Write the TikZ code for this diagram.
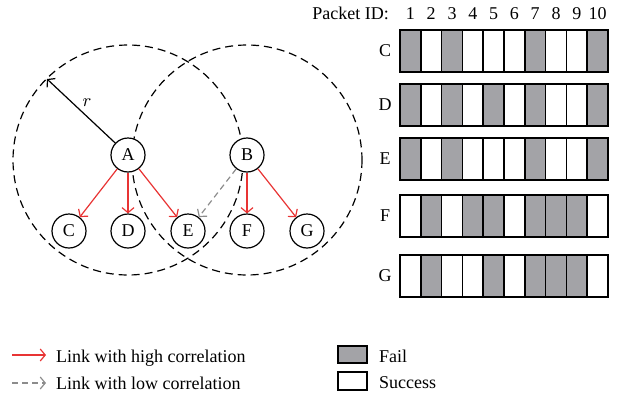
\documentclass[tikz,border=0pt]{standalone}
\usepackage{fontspec}
\setmainfont{Liberation Serif}
\usetikzlibrary{arrows.meta}
\definecolor{linkred}{RGB}{232,52,52}
\definecolor{linkgray}{RGB}{140,140,140}
\definecolor{failgray}{RGB}{163,163,167}
\begin{document}
\begin{tikzpicture}[x=0.5pt,y=-0.5pt,font=\fontsize{9}{11}\selectfont,
  station/.style={circle,draw,fill=white,line width=0.6pt,minimum size=17pt,inner sep=0pt},
  radio/.style={line width=0.6pt,dash pattern=on 4pt off 2.5pt},
  barb/.style={-{Straight Barb[length=2.5pt,width=6pt]}},
  high/.style={barb,linkred,line width=0.6pt},
  low/.style={barb,linkgray,line width=0.6pt,dash pattern=on 3pt off 2pt},
  cell/.style={line width=0.75pt}]
\useasboundingbox (0,0) rectangle (620,396);
% ranges
\coordinate (rangeA) at (128,160);
\coordinate (rangeB) at (247,160);
\draw[radio] (rangeA) circle (115);
\draw[radio] (rangeB) circle (115);
% stations
\node[station] (A) at (128,155) {A};
\node[station] (B) at (247,155) {B};
\node[station] (C) at (69,231) {C};
\node[station] (D) at (128,231) {D};
\node[station] (E) at (188,231) {E};
\node[station] (F) at (247,231) {F};
\node[station] (G) at (307,231) {G};
\coordinate (redge) at (47,79);
\draw[barb,line width=0.6pt] (A) -- (redge);
\node (rlabel) at (87,103) {$r$};
% links
\draw[high] (A) -- (C);
\draw[high] (A) -- (D);
\draw[high] (A) -- (E);
\draw[high] (B) -- (F);
\draw[high] (B) -- (G);
\draw[low] (B) -- (E);
% packets
\node[anchor=base east] (pid) at (396,19) {Packet ID:};
\foreach \i in {1,...,10}
  \node[anchor=base] (id\i) at ({400+20.8*(\i-0.5)},19) {\i};
\foreach \row/\top/\fails in {C/30/{1,3,7,10},D/84/{1,3,5,7,10},E/138/{1,3,7,10},F/195/{2,4,5,7,8,9},G/255/{2,5,7,8,9}} {
  \node (row\row) at (385,\top+21) {\row};
  \foreach \c in \fails
    \fill[failgray] ({400+20.8*(\c-1)},\top) rectangle ++(20.8,42);
  \foreach \c in {0,...,9}
    \draw[cell] ({400+20.8*\c},\top) rectangle ++(20.8,42);
}
% legend
\coordinate (hs) at (12,355);
\coordinate (he) at (46,355);
\draw[high] (hs) -- (he);
\node[anchor=base west] (hightext) at (49,362) {Link with high correlation};
\coordinate (ls) at (12,383);
\coordinate (le) at (46,383);
\draw[low] (ls) -- (le);
\node[anchor=base west] (lowtext) at (49,389) {Link with low correlation};
\draw[cell,fill=failgray] (338,346) rectangle (367,363);
\node[anchor=base west] (failtext) at (372,362) {Fail};
\draw[cell] (338,372) rectangle (367,390);
\node[anchor=base west] (succtext) at (372,388) {Success};
\end{tikzpicture}
\end{document}
